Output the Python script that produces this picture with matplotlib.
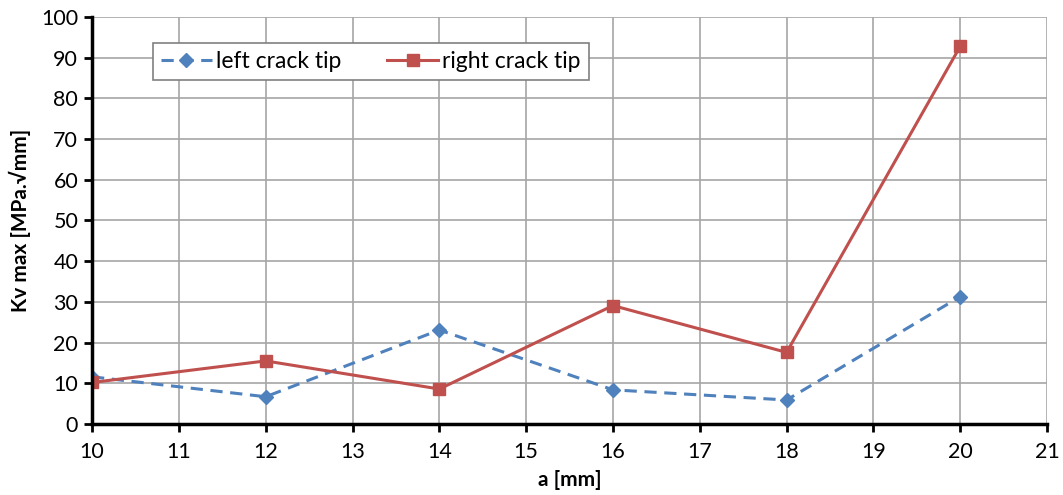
import matplotlib
matplotlib.use("Agg")
import matplotlib.pyplot as plt

plt.rcParams['font.family'] = ['Lato', 'DejaVu Sans']

a_mm = [10, 12, 14, 16, 18, 20]
left_tip = [11.6, 6.7, 23.1, 8.4, 5.9, 31.3]
right_tip = [10.2, 15.5, 8.6, 29.1, 17.6, 92.8]
x_ticks = list(range(10, 22))
y_ticks = list(range(0, 101, 10))

fig = plt.figure(figsize=(10.63, 4.95), dpi=100)
ax = fig.add_axes([0.0866, 0.1434, 0.8984, 0.8223])

ax.plot(a_mm, left_tip, color='#4F81BD', linestyle=(0, (4, 2.5)), linewidth=2.2,
        marker='D', markersize=7, markerfacecolor='#4F81BD', markeredgecolor='#4F81BD',
        label='left crack tip', zorder=3)
ax.plot(a_mm, right_tip, color='#C0504D', linestyle='-', linewidth=2.2,
        marker='s', markersize=9, markerfacecolor='#C0504D', markeredgecolor='#C0504D',
        label='right crack tip', zorder=4)

ax.set_xlim(10, 21)
ax.set_ylim(0, 100)
ax.set_xticks(x_ticks)
ax.set_yticks(y_ticks)
ax.grid(True, color='#a6a6a6', linewidth=1.2)
ax.set_axisbelow(True)

for side in ('top', 'right'):
    ax.spines[side].set_visible(False)
for side in ('left', 'bottom'):
    ax.spines[side].set_linewidth(2.5)
    ax.spines[side].set_color('black')
    ax.spines[side].set_zorder(5)

ax.tick_params(axis='both', direction='out', length=6, width=2, labelsize=15.5, pad=4)
ax.tick_params(axis='x', pad=7)

ax.set_xlabel('a [mm]', fontsize=15, fontweight='bold', labelpad=6)
ax.set_ylabel('Kv max [MPa.√mm]', fontsize=15, fontweight='bold', labelpad=7)

leg = ax.legend(loc='upper left', bbox_to_anchor=(0.0639, 0.936), ncol=2, fontsize=16.5,
                frameon=True, fancybox=False, edgecolor='#808080', framealpha=1,
                handlelength=2.2, columnspacing=2.0, borderpad=0.35, handletextpad=0.2,
                borderaxespad=0)
leg.get_frame().set_linewidth(1.2)

fig.savefig('out.png', dpi=100)
